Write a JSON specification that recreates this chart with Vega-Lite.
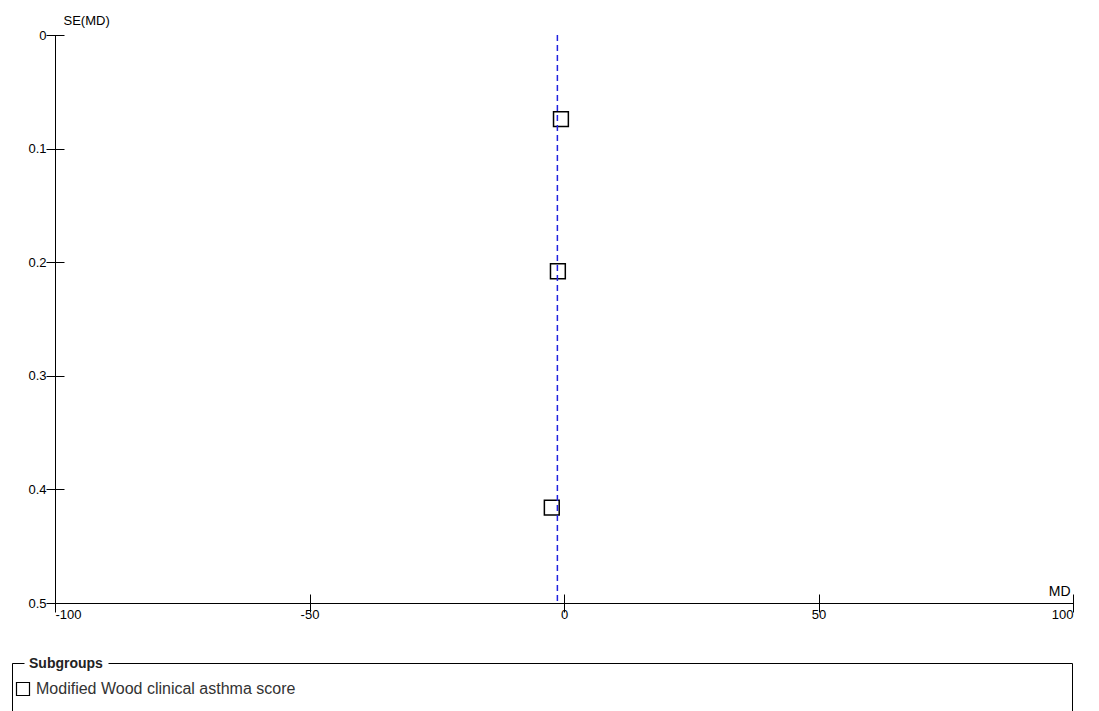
{
  "$schema": "https://vega.github.io/schema/vega-lite/v6.json",
  "width": 1018,
  "height": 568,
  "autosize": {"type": "none"},
  "padding": {"left": 55, "top": 35, "right": 26, "bottom": 108},
  "background": "white",
  "config": {
    "view": {"stroke": null},
    "font": "Liberation Sans",
    "axis": {
      "labelFont": "Liberation Sans",
      "titleFont": "Liberation Sans",
      "labelFontSize": 13,
      "titleFontSize": 13,
      "titleFontWeight": "normal",
      "labelColor": "black",
      "titleColor": "black",
      "domainColor": "black",
      "tickColor": "black",
      "grid": false
    }
  },
  "resolve": {"axis": {"x": "independent", "y": "independent"}},
  "layer": [
    {
      "data": {
        "values": [
          {"md": -0.6, "se": 0.074, "subgroup": "Modified Wood clinical asthma score"},
          {"md": -1.2, "se": 0.208, "subgroup": "Modified Wood clinical asthma score"},
          {"md": -2.4, "se": 0.416, "subgroup": "Modified Wood clinical asthma score"}
        ]
      },
      "mark": {"type": "point", "shape": "square", "filled": false, "size": 220, "strokeWidth": 1.5, "opacity": 1},
      "encoding": {
        "x": {
          "field": "md", "type": "quantitative",
          "scale": {"domain": [-100, 100], "nice": false},
          "axis": {
            "orient": "bottom",
            "values": [-100, -50, 0, 50, 100],
            "labelExpr": "'' + datum.value",
            "ticks": false,
            "tickSize": 0,
            "labelPadding": 5,
            "title": "MD",
            "titleFontSize": 14,
            "titleX": 1015,
            "titleY": -8,
            "titleAlign": "right",
            "titleBaseline": "alphabetic"
          }
        },
        "y": {
          "field": "se", "type": "quantitative",
          "scale": {"domain": [0, 0.5], "reverse": true, "nice": false, "zero": false},
          "axis": {
            "orient": "left",
            "values": [0, 0.1, 0.2, 0.3, 0.4, 0.5],
            "format": "~g",
            "ticks": false,
            "tickSize": 0,
            "labelPadding": 9,
            "title": "SE(MD)",
            "titleAngle": 0,
            "titleX": 8,
            "titleY": -11,
            "titleAlign": "left",
            "titleBaseline": "alphabetic"
          }
        },
        "color": {
          "field": "subgroup", "type": "nominal",
          "scale": {"range": ["black"]},
          "legend": {
            "orient": "none",
            "legendX": -43,
            "legendY": 628,
            "title": "Subgroups",
            "titleFont": "Liberation Sans",
            "titleFontSize": 14,
            "titleFontWeight": "bold",
            "titleColor": "#222222",
            "titlePadding": 1,
            "labelFont": "Liberation Sans",
            "labelFontSize": 16,
            "labelColor": "#333333",
            "labelLimit": 3000,
            "labelOffset": 5,
            "labelExpr": "pad(datum.label, 209, '\u00a0') + '\u200b'",
            "strokeColor": "black",
            "padding": 3,
            "symbolType": "M-1,-1H1V1H-1Z M0,4.5",
            "symbolSize": 169,
            "symbolStrokeWidth": 1.2,
            "symbolStrokeColor": "black",
            "symbolFillColor": "white",
            "encoding": {
              "legend": {"strokeDash": {"value": [12, 84, 5000]}},
              "title": {"dy": {"value": -9}, "dx": {"value": 14}}
            }
          }
        }
      }
    },
    {
      "data": {"values": [{"md": -1.3}]},
      "mark": {"type": "rule", "color": "#2020e0", "strokeDash": [6, 4], "strokeWidth": 1.5},
      "encoding": {
        "x": {
          "field": "md", "type": "quantitative",
          "scale": {"domain": [-100, 100], "nice": false},
          "axis": {
            "orient": "bottom",
            "values": [-100, -50, 0, 50, 100],
            "domain": false,
            "labels": false,
            "title": null,
            "tickSize": 18,
            "offset": -9
          }
        },
        "y": {"datum": 0, "type": "quantitative",
          "scale": {"domain": [0, 0.5], "reverse": true, "nice": false, "zero": false},
          "axis": {
            "orient": "left",
            "values": [0, 0.1, 0.2, 0.3, 0.4, 0.5],
            "domain": false,
            "labels": false,
            "title": null,
            "tickSize": 18,
            "offset": -9
          }
        },
        "y2": {"datum": 0.5}
      }
    }
  ]
}
